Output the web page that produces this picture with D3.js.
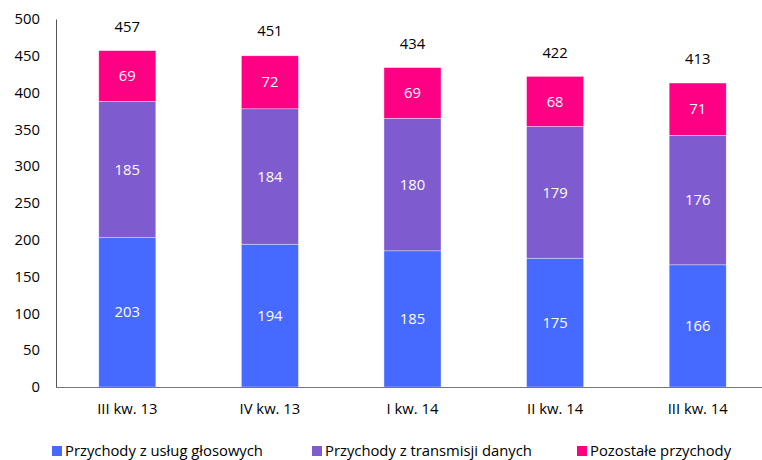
<!DOCTYPE html>
<html><head><meta charset="utf-8">
<script src="https://cdn.jsdelivr.net/npm/d3@7"></script>
<style>body{margin:0;background:#fff}svg{display:block;font-family:"Open Sans","Noto Sans",sans-serif}</style>
</head><body><svg id="c" width="762" height="460"></svg>
<script>
const categories = ["III kw. 13","IV kw. 13","I kw. 14","II kw. 14","III kw. 14"];
const voice = [203,194,185,175,166];
const data = [185,184,180,179,176];
const other = [69,72,69,68,71];
const totals = [457,451,434,422,413];
const seriesNames = ["Przychody z usług głosowych","Przychody z transmisji danych","Pozostałe przychody"];
const colors = ["#4669ff","#7e5ccf","#ff0084"];
const yTicks = [0,50,100,150,200,250,300,350,400,450,500];

const FS = 14.8;
const svg = d3.select("#c");
const x = d3.scaleBand().domain(categories).range([56,769]).paddingInner(0.6).paddingOuter(0.3);
const y = d3.scaleLinear().domain([0,500]).range([387,19]);

const rows = categories.map((c,i)=>({cat:c, v0:voice[i], v1:data[i], v2:other[i]}));
const stack = d3.stack().keys(["v0","v1","v2"])(rows);

const g = svg.append("g");
stack.forEach((s,k)=>{
  g.selectAll(null).data(s).enter().append("rect")
    .attr("x",d=>x(d.data.cat)).attr("width",x.bandwidth())
    .attr("y",d=>y(d[1])).attr("height",d=>y(d[0])-y(d[1]))
    .attr("fill",colors[k]).attr("stroke","#fff").attr("stroke-width",0.6).attr("stroke-opacity",0.6);
  g.selectAll(null).data(s).enter().append("text")
    .attr("x",d=>x(d.data.cat)+x.bandwidth()/2).attr("y",d=>(y(d[0])+y(d[1]))/2)
    .attr("dy","0.35em").attr("text-anchor","middle").attr("fill","#fff").attr("font-size",FS)
    .text(d=>d[1]-d[0]);
});
g.selectAll(null).data(categories).enter().append("text")
  .attr("x",d=>x(d)+x.bandwidth()/2).attr("y",(d,i)=>y(totals[i])-24)
  .attr("dy","0.35em").attr("text-anchor","middle").attr("fill","#000").attr("font-size",FS)
  .text((d,i)=>totals[i]);

// axes
const ya = svg.append("g").attr("transform","translate(56,0)")
  .call(d3.axisLeft(y).tickValues(yTicks).tickSize(0).tickPadding(16));
ya.select(".domain").attr("stroke","#555");
ya.selectAll("text").attr("font-size",FS).attr("fill","#000").attr("font-family","'Open Sans','Noto Sans',sans-serif");
const xa = svg.append("g").attr("transform","translate(0,387)")
  .call(d3.axisBottom(x).tickSize(0).tickPadding(16));
xa.select(".domain").attr("stroke","#777").attr("d","M56,0.5H762");
xa.selectAll("text").attr("font-size",FS).attr("fill","#000").attr("font-family","'Open Sans','Noto Sans',sans-serif");

// legend
const legX = [52,312,577];
const lg = svg.append("g");
seriesNames.forEach((n,i)=>{
  lg.append("rect").attr("x",legX[i]).attr("y",446).attr("width",10).attr("height",10).attr("fill",colors[i]);
  lg.append("text").attr("x",legX[i]+13).attr("y",451).attr("dy","0.35em").attr("font-size",FS).attr("fill","#000").text(n);
});
</script></body></html>
